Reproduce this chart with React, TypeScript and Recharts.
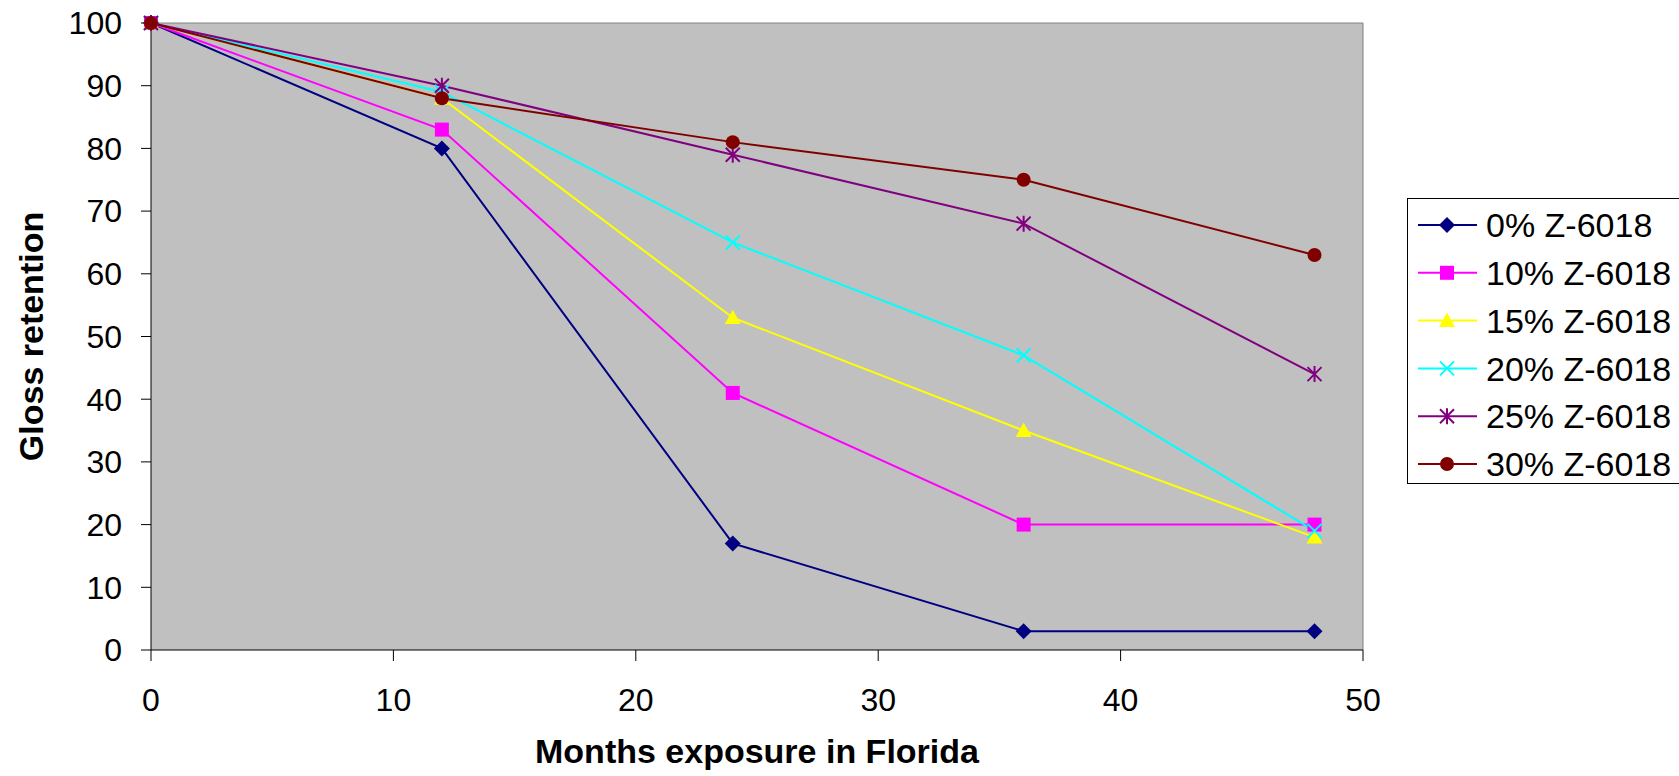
import React from 'react';
import { LineChart, Line, XAxis, YAxis, CartesianGrid, ReferenceLine, Legend } from 'recharts';

const months = [0, 12, 24, 36, 48];
const s0 = [100, 80, 17, 3, 3];
const s10 = [100, 83, 41, 20, 20];
const s15 = [100, 88, 53, 35, 18];
const s20 = [100, 89, 65, 47, 19];
const s25 = [100, 90, 79, 68, 44];
const s30 = [100, 88, 81, 75, 63];
const xTicks = [0, 10, 20, 30, 40, 50];
const yTicks = [0, 10, 20, 30, 40, 50, 60, 70, 80, 90, 100];

const seriesNames = ['0% Z-6018', '10% Z-6018', '15% Z-6018', '20% Z-6018', '25% Z-6018', '30% Z-6018'];
const seriesValues = [s0, s10, s15, s20, s25, s30];
const seriesColors = ['#000080', '#FF00FF', '#FFFF00', '#00FFFF', '#800080', '#800000'];
const seriesShapes = ['diamond', 'square', 'triangle', 'x', 'star', 'circle'];

const data = months.map((m, i) => {
  const row: any = { m };
  seriesValues.forEach((vals, k) => {
    row['s' + k] = vals[i];
  });
  return row;
});

const FONT = '"Liberation Sans", Arial, sans-serif';

function Marker({ shape, cx, cy, color }: { shape: string; cx: number; cy: number; color: string }) {
  switch (shape) {
    case 'diamond': {
      const s = 8;
      return <path d={`M${cx},${cy - s}L${cx + s},${cy}L${cx},${cy + s}L${cx - s},${cy}Z`} fill={color} />;
    }
    case 'square': {
      const s = 7;
      return <rect x={cx - s} y={cy - s} width={2 * s} height={2 * s} fill={color} />;
    }
    case 'triangle': {
      const s = 8;
      return <path d={`M${cx},${cy - s}L${cx + s},${cy + s * 0.8}L${cx - s},${cy + s * 0.8}Z`} fill={color} />;
    }
    case 'x': {
      const s = 7;
      return (
        <path d={`M${cx - s},${cy - s}L${cx + s},${cy + s}M${cx + s},${cy - s}L${cx - s},${cy + s}`} stroke={color} strokeWidth={2} fill="none" />
      );
    }
    case 'star': {
      const s = 7;
      return (
        <path
          d={`M${cx - s},${cy - s}L${cx + s},${cy + s}M${cx + s},${cy - s}L${cx - s},${cy + s}M${cx},${cy - s - 1}L${cx},${cy + s + 1}`}
          stroke={color}
          strokeWidth={2}
          fill="none"
        />
      );
    }
    default:
      return <circle cx={cx} cy={cy} r={7} fill={color} />;
  }
}

const makeDot = (shape: string, color: string) => (props: any) => {
  const { cx, cy, index } = props;
  if (cx == null || cy == null) return <g key={`e-${index}`} />;
  return (
    <g key={`${shape}-${index}`}>
      <Marker shape={shape} cx={cx} cy={cy} color={color} />
    </g>
  );
};

const LegendContent = () => (
  <svg width={272} height={287} style={{ display: 'block', fontFamily: FONT }}>
    <rect x={0.5} y={0.5} width={300} height={285} fill="#fff" stroke="#000" strokeWidth={1} />
    {seriesNames.map((name, i) => {
      const y = 27 + i * 47.8;
      return (
        <g key={name}>
          <line x1={11} x2={70} y1={y} y2={y} stroke={seriesColors[i]} strokeWidth={2} />
          <Marker shape={seriesShapes[i]} cx={40} cy={y} color={seriesColors[i]} />
          <text x={79} y={y} dy="0.36em" fontSize={34} fill="#000">
            {name}
          </text>
        </g>
      );
    })}
  </svg>
);

const YTitle = (props: any) => {
  const vb = props.viewBox || {};
  const cy = vb.y + vb.height / 2;
  const x = 43;
  return (
    <text x={x} y={cy} transform={`rotate(-90, ${x}, ${cy})`} textAnchor="middle" fontSize={34} fontWeight="bold" fill="#000" fontFamily={FONT}>
      Gloss retention
    </text>
  );
};

export default function App() {
  return (
    <div style={{ position: 'absolute', left: 0, top: 0, width: 1679, height: 776, overflow: 'hidden', background: '#fff' }}>
      <LineChart
        width={1679}
        height={776}
        data={data}
        margin={{ top: 23, right: 316, bottom: 0, left: 0 }}
        style={{ fontFamily: FONT }}
      >
        <CartesianGrid horizontal={false} vertical={false} fill="#C0C0C0" />
        <ReferenceLine y={100} stroke="#808080" strokeWidth={1} ifOverflow="extendDomain" />
        <ReferenceLine x={50} stroke="#808080" strokeWidth={1} ifOverflow="extendDomain" />
        <XAxis
          dataKey="m"
          type="number"
          domain={[0, 50]}
          ticks={xTicks}
          height={126}
          tickSize={11}
          tickMargin={27}
          axisLine={{ stroke: '#000', strokeWidth: 1 }}
          tickLine={{ stroke: '#000', strokeWidth: 1 }}
          tick={{ fill: '#000', fontSize: 32, fontFamily: FONT }}
          interval={0}
          label={{ value: 'Months exposure in Florida', position: 'insideBottom', offset: 13, fontSize: 34, fontWeight: 'bold', fill: '#000', fontFamily: FONT }}
        />
        <YAxis
          type="number"
          domain={[0, 100]}
          ticks={yTicks}
          width={151}
          tickSize={10}
          tickMargin={19}
          axisLine={{ stroke: '#000', strokeWidth: 1 }}
          tickLine={{ stroke: '#000', strokeWidth: 1 }}
          tick={{ fill: '#000', fontSize: 32, fontFamily: FONT }}
          interval={0}
          label={<YTitle />}
        />
        {seriesNames.map((name, k) => (
          <Line
            key={name}
            type="linear"
            dataKey={'s' + k}
            name={name}
            stroke={seriesColors[k]}
            strokeWidth={2}
            dot={makeDot(seriesShapes[k], seriesColors[k])}
            activeDot={false}
            isAnimationActive={false}
          />
        ))}
        <Legend
          layout="horizontal"
          verticalAlign="middle"
          align="center"
          content={<LegendContent />}
          wrapperStyle={{ position: 'absolute', left: 1407, top: 198, width: 272, height: 287, bottom: 'auto', right: 'auto' }}
        />
      </LineChart>
    </div>
  );
}
